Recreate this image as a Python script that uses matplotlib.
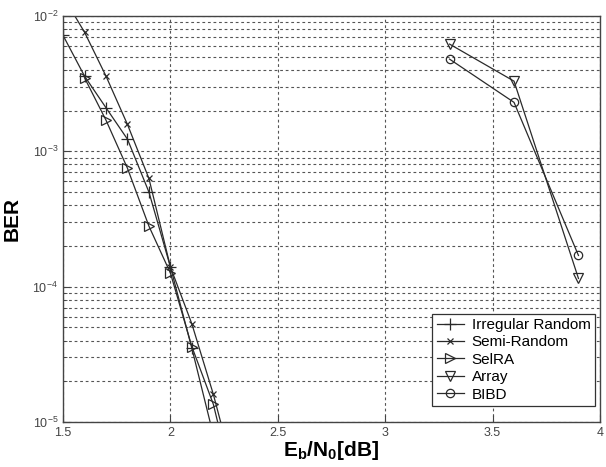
import matplotlib
matplotlib.use("Agg")
import matplotlib.pyplot as plt
from matplotlib.ticker import LogLocator, NullFormatter

# Eb/N0 points (dB) and BER values
ebn0_left = [1.5, 1.6, 1.7, 1.8, 1.9, 2.0, 2.1, 2.2, 2.3]
ber_irregular = [7.2e-3, 3.6e-3, 2.1e-3, 1.23e-3, 5.0e-4, 1.4e-4, 3.5e-5, 8e-6]
ber_semi = [1.4e-2, 7.6e-3, 3.6e-3, 1.58e-3, 6.3e-4, 1.4e-4, 5.3e-5, 1.6e-5, 4e-6]
ebn0_selra = [1.6, 1.7, 1.8, 1.9, 2.0, 2.1, 2.2, 2.3]
ber_selra = [3.5e-3, 1.7e-3, 7.5e-4, 2.8e-4, 1.26e-4, 3.6e-5, 1.35e-5, 3e-6]
ebn0_right = [3.3, 3.6, 3.9]
ber_array = [6.2e-3, 3.3e-3, 1.15e-4]
ber_bibd = [4.8e-3, 2.3e-3, 1.7e-4]

plt.rcParams["font.family"] = ["Liberation Sans", "DejaVu Sans"]
plt.rcParams["mathtext.fontset"] = "custom"
plt.rcParams["mathtext.rm"] = "Liberation Sans"
plt.rcParams["mathtext.it"] = "Liberation Sans:italic"
plt.rcParams["mathtext.bf"] = "Liberation Sans:bold"

fig = plt.figure(figsize=(6.06, 4.67), dpi=100)
ax = fig.add_axes([0.104, 0.0964, 0.886, 0.8693])

lc = "#2a2a2a"
kw = dict(color=lc, linewidth=0.9, markerfacecolor="none", markeredgecolor=lc,
          markeredgewidth=0.9)
ax.semilogy(ebn0_left[:len(ber_irregular)], ber_irregular, marker="+", markersize=9,
            label="Irregular Random", **kw)
ax.semilogy(ebn0_left, ber_semi, marker="x", markersize=4, label="Semi-Random", **kw)
ax.semilogy(ebn0_selra, ber_selra, marker=">", markersize=6.5, label="SelRA", **kw)
ax.semilogy(ebn0_right, ber_array, marker="v", markersize=6.5, label="Array", **kw)
ax.semilogy(ebn0_right, ber_bibd, marker="o", markersize=6, label="BIBD", **kw)

ax.set_xlim(1.5, 4)
ax.set_ylim(1e-5, 1e-2)
ax.set_xticks([1.5, 2, 2.5, 3, 3.5, 4])
ax.set_xticklabels(["1.5", "2", "2.5", "3", "3.5", "4"])
ax.yaxis.set_major_locator(LogLocator(base=10, numticks=10))
ax.yaxis.set_minor_locator(LogLocator(base=10, subs=range(2, 10), numticks=20))
ax.yaxis.set_minor_formatter(NullFormatter())

gkw = dict(color="#555555", linestyle=(0, (2.5, 2.5)), linewidth=0.8)
ax.grid(True, which="major", axis="both", **gkw)
ax.grid(True, which="minor", axis="y", **gkw)

ax.tick_params(which="both", direction="in", labelsize=9, labelcolor="#444444",
               color="#444444")
ax.tick_params(which="major", length=5)
ax.tick_params(which="minor", length=3)
for s in ax.spines.values():
    s.set_color("#444444")
    s.set_linewidth(1.0)

ax.set_xlabel(r"$\mathbf{E_b/N_0[dB]}$", fontsize=15, labelpad=0)
ax.set_ylabel("BER", fontsize=15, fontweight="bold", labelpad=8)

leg = ax.legend(loc="lower right", bbox_to_anchor=(0.991, 0.039), borderaxespad=0,
                fontsize=11, fancybox=False, edgecolor="#333333", framealpha=1,
                handlelength=1.8, handletextpad=0.5, borderpad=0.3,
                labelspacing=0.22)
leg.get_frame().set_linewidth(0.9)

fig.savefig("out.png", dpi=100)
